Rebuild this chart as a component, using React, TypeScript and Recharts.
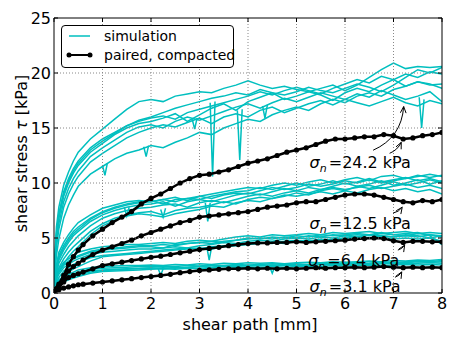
import React from "react";
import {
  LineChart,
  Line,
  XAxis,
  YAxis,
  ReferenceLine,
  ReferenceDot,
  Legend
} from "recharts";

const FONT = "DejaVu Sans";
const CYAN = "#00bfbf";

// shear path grid of the simulated curves [mm]
const simX = [0, 0.05, 0.1, 0.2, 0.3, 0.4, 0.5, 0.75, 1, 1.25, 1.5, 1.75, 2, 2.25, 2.5, 2.75, 3, 3.25, 3.5, 3.75, 4, 4.25, 4.5, 4.75, 5, 5.25, 5.5, 5.75, 6, 6.25, 6.5, 6.75, 7, 7.25, 7.5, 7.75, 8];

// simulations, sigma_n = 24.2 kPa
const sim24a = [1.8, 6.0, 7.8, 9.8, 11.0, 12.0, 12.8, 14.0, 14.9, 15.8, 16.7, 17.4, 17.6, 17.4, 17.9, 18.1, 18.3, 18.2, 18.6, 18.9, 19.3, 18.9, 18.6, 18.8, 18.5, 18.3, 18.6, 18.9, 18.4, 18.9, 19.6, 20.3, 20.9, 20.4, 20.6, 20.5, 20.6];
const sim24b = [1.5, 5.4, 7.2, 9.2, 10.4, 11.3, 12.0, 13.2, 14.0, 14.6, 15.2, 15.6, 15.9, 16.1, 15.8, 16.4, 16.7, 17.0, 17.3, 17.6, 17.9, 18.3, 18.0, 18.4, 18.7, 18.4, 18.1, 18.6, 19.0, 19.4, 19.1, 19.7, 19.4, 19.9, 19.6, 20.1, 19.9];
const sim24c = [1.3, 5.0, 6.8, 8.8, 10.0, 10.9, 11.6, 12.8, 13.6, 14.4, 15.0, 15.4, 15.6, 15.9, 16.3, 15.6, 16.2, 16.8, 17.2, 16.6, 17.4, 17.8, 18.2, 17.6, 17.9, 18.3, 18.0, 17.5, 18.2, 18.6, 18.3, 18.9, 19.4, 18.8, 19.2, 19.0, 18.6];
const sim24d = [1.2, 4.6, 6.3, 8.3, 9.5, 10.4, 11.1, 12.4, 13.2, 13.9, 14.6, 15.1, 15.3, 15.0, 15.6, 16.0, 15.7, 16.1, 16.5, 16.9, 17.2, 16.8, 17.3, 17.7, 17.4, 17.8, 18.2, 17.9, 17.6, 18.1, 17.8, 18.4, 18.0, 17.6, 17.9, 18.3, 17.4];
const sim24e = [1.0, 4.2, 5.8, 7.8, 9.0, 9.9, 10.6, 11.9, 12.7, 13.4, 14.1, 14.6, 15.0, 15.3, 15.1, 15.5, 15.9, 15.4, 16.0, 16.3, 16.0, 16.6, 16.9, 16.4, 16.8, 17.2, 17.5, 17.1, 17.6, 17.3, 17.0, 17.4, 17.8, 17.3, 17.0, 17.5, 17.2];
const sim24f = [0.8, 3.4, 4.9, 6.8, 8.0, 8.9, 9.7, 10.8, 11.5, 12.2, 12.7, 13.0, 13.4, 13.2, 13.7, 14.1, 14.6, 14.4, 15.0, 15.4, 15.8, 15.6, 16.2, 16.6, 16.9, 16.6, 17.2, 17.6, 17.3, 17.9, 18.2, 17.9, 18.5, 18.8, 19.2, 18.9, 19.0];
const sim24g = [1.4, 5.2, 7.0, 9.0, 10.2, 11.1, 11.8, 13.0, 13.8, 14.5, 15.2, 15.7, 16.0, 16.4, 16.8, 17.1, 17.4, 17.7, 17.9, 18.2, 18.0, 18.5, 18.2, 18.0, 18.3, 18.7, 18.4, 18.2, 18.6, 19.0, 18.7, 18.3, 18.9, 19.6, 20.3, 20.0, 20.5];

// simulations, sigma_n = 12.5 kPa
const sim12a = [1.0, 2.5, 3.7, 4.6, 5.3, 5.9, 6.4, 7.1, 7.7, 8.0, 8.3, 8.4, 8.3, 8.5, 8.7, 8.4, 8.8, 9.0, 9.2, 9.4, 9.6, 9.5, 9.8, 10.0, 9.8, 10.1, 10.3, 10.0, 10.3, 10.5, 10.2, 10.6, 10.7, 10.4, 10.6, 10.8, 10.6];
const sim12b = [0.9, 2.3, 3.4, 4.3, 5.0, 5.6, 6.0, 6.8, 7.4, 7.8, 8.1, 8.3, 8.4, 8.1, 8.5, 8.6, 8.5, 8.8, 9.0, 9.2, 9.3, 9.6, 9.4, 9.7, 10.0, 9.7, 9.9, 10.2, 9.9, 10.1, 10.4, 10.1, 10.3, 10.5, 10.2, 10.4, 10.1];
const sim12c = [0.8, 2.0, 3.0, 3.9, 4.6, 5.2, 5.6, 6.5, 7.1, 7.5, 7.8, 8.0, 8.1, 8.3, 7.9, 8.3, 8.5, 8.3, 8.6, 8.9, 9.1, 8.9, 9.2, 9.5, 9.3, 9.6, 9.4, 9.7, 10.0, 9.7, 9.9, 10.2, 9.8, 10.0, 10.3, 9.9, 10.2];
const sim12d = [0.7, 1.8, 2.7, 3.5, 4.2, 4.7, 5.2, 6.1, 6.8, 7.2, 7.5, 7.7, 7.8, 8.0, 8.1, 7.8, 8.2, 8.4, 8.2, 8.5, 8.8, 9.0, 8.8, 9.1, 9.3, 9.1, 9.4, 9.6, 9.4, 9.6, 9.8, 9.5, 9.7, 9.9, 9.6, 9.8, 9.5];
const sim12e = [0.6, 1.5, 2.3, 3.1, 3.7, 4.2, 4.6, 5.6, 6.3, 6.8, 7.1, 7.3, 7.4, 7.1, 7.5, 7.7, 7.8, 8.0, 8.3, 8.1, 8.5, 8.7, 8.6, 8.9, 8.8, 9.0, 9.2, 9.0, 9.3, 9.1, 9.4, 9.6, 9.3, 9.5, 9.2, 9.4, 9.0];
const sim12f = [0.5, 1.3, 1.9, 2.7, 3.3, 3.8, 4.2, 5.3, 6.1, 6.6, 7.0, 7.2, 7.1, 6.9, 7.2, 7.4, 7.6, 7.9, 7.8, 8.2, 8.4, 8.3, 8.6, 8.8, 9.1, 8.9, 9.3, 9.5, 9.3, 9.7, 9.5, 9.8, 10.1, 9.8, 10.0, 10.3, 10.0];
const sim12g = [0.9, 2.2, 3.2, 4.1, 4.8, 5.4, 5.8, 6.7, 7.3, 7.7, 8.0, 8.2, 8.3, 8.5, 8.3, 8.6, 8.8, 8.6, 8.9, 9.1, 9.0, 9.3, 9.6, 9.4, 9.6, 9.9, 9.7, 9.9, 10.2, 10.0, 10.3, 10.0, 10.2, 10.4, 10.7, 10.5, 10.7];

// simulations, sigma_n = 6.4 kPa
const sim6a = [0.6, 1.6, 2.2, 2.8, 3.1, 3.4, 3.7, 4.0, 4.2, 4.3, 4.4, 4.4, 4.5, 4.6, 4.5, 4.7, 4.8, 4.7, 4.9, 5.1, 5.2, 5.1, 5.3, 5.2, 5.3, 5.4, 5.3, 5.5, 5.4, 5.5, 5.6, 5.4, 5.5, 5.6, 5.4, 5.5, 5.4];
const sim6b = [0.5, 1.4, 2.0, 2.6, 2.9, 3.2, 3.4, 3.8, 4.0, 4.1, 4.2, 4.3, 4.3, 4.4, 4.3, 4.5, 4.6, 4.7, 4.6, 4.8, 4.9, 5.0, 4.9, 5.1, 5.0, 5.2, 5.1, 5.3, 5.2, 5.3, 5.2, 5.4, 5.3, 5.2, 5.4, 5.3, 5.1];
const sim6c = [0.45, 1.2, 1.7, 2.3, 2.6, 2.9, 3.1, 3.5, 3.7, 3.8, 3.9, 4.0, 4.0, 4.1, 4.2, 4.1, 4.3, 4.4, 4.6, 4.5, 4.7, 4.8, 4.7, 4.9, 5.0, 4.9, 5.1, 5.0, 5.2, 5.1, 5.3, 5.2, 5.1, 5.3, 5.2, 5.0, 5.2];
const sim6d = [0.4, 1.0, 1.4, 2.0, 2.3, 2.6, 2.8, 3.2, 3.4, 3.5, 3.6, 3.7, 3.8, 3.9, 4.0, 4.1, 4.0, 4.2, 4.3, 4.4, 4.5, 4.6, 4.5, 4.7, 4.8, 4.7, 4.9, 4.8, 5.0, 4.9, 5.0, 5.1, 4.9, 5.0, 4.9, 5.0, 4.7];
const sim6e = [0.3, 0.8, 1.1, 1.5, 1.9, 2.2, 2.4, 2.9, 3.3, 3.4, 3.5, 3.6, 3.7, 3.8, 3.9, 4.0, 4.1, 4.0, 4.2, 4.3, 4.4, 4.5, 4.6, 4.5, 4.7, 4.8, 4.7, 4.9, 5.0, 5.1, 5.0, 5.2, 5.1, 5.2, 5.1, 5.3, 5.2];
const sim6f = [0.5, 1.3, 1.9, 2.5, 2.8, 3.1, 3.3, 3.7, 3.9, 4.0, 4.1, 4.2, 4.2, 4.1, 4.4, 4.5, 4.6, 4.5, 4.7, 4.8, 5.0, 4.9, 5.1, 5.0, 5.2, 5.1, 5.3, 5.2, 5.3, 5.4, 5.3, 5.5, 5.3, 5.4, 5.5, 5.2, 4.4];

// simulations, sigma_n = 3.1 kPa
const sim3a = [0.4, 0.9, 1.2, 1.5, 1.7, 1.9, 2.1, 2.3, 2.4, 2.45, 2.5, 2.5, 2.55, 2.5, 2.6, 2.55, 2.65, 2.6, 2.7, 2.65, 2.75, 2.7, 2.75, 2.65, 2.75, 2.8, 2.75, 2.85, 2.8, 2.85, 2.9, 2.85, 2.95, 2.9, 3.0, 2.95, 3.05];
const sim3b = [0.35, 0.8, 1.05, 1.35, 1.55, 1.75, 1.9, 2.15, 2.25, 2.3, 2.35, 2.4, 2.4, 2.45, 2.4, 2.5, 2.45, 2.55, 2.5, 2.6, 2.55, 2.6, 2.65, 2.6, 2.65, 2.6, 2.7, 2.65, 2.7, 2.75, 2.7, 2.75, 2.8, 2.75, 2.85, 2.8, 2.85];
const sim3c = [0.3, 0.7, 0.95, 1.2, 1.4, 1.6, 1.75, 2.0, 2.1, 2.15, 2.2, 2.25, 2.3, 2.2, 2.35, 2.3, 2.4, 2.35, 2.45, 2.4, 2.5, 2.45, 2.5, 2.55, 2.5, 2.55, 2.6, 2.55, 2.6, 2.65, 2.6, 2.65, 2.7, 2.65, 2.7, 2.75, 2.7];
const sim3d = [0.2, 0.55, 0.75, 1.0, 1.2, 1.35, 1.5, 1.8, 1.95, 2.0, 2.05, 2.1, 2.15, 2.2, 2.15, 2.25, 2.2, 2.3, 2.25, 2.3, 2.35, 2.3, 2.4, 2.35, 2.4, 2.45, 2.4, 2.5, 2.45, 2.5, 2.55, 2.5, 2.55, 2.6, 2.55, 2.6, 2.55];
const sim3e = [0.3, 0.65, 0.9, 1.15, 1.35, 1.5, 1.65, 1.9, 2.05, 2.1, 2.15, 2.2, 2.25, 2.3, 2.25, 2.35, 2.4, 2.35, 2.45, 2.5, 2.45, 2.5, 2.55, 2.5, 2.6, 2.55, 2.65, 2.6, 2.7, 2.65, 2.7, 2.8, 2.75, 2.85, 2.9, 2.85, 2.95];

// sharp drops in the simulated curves, [x, tau]
const drops = [
  [[1.0, 11.6], [1.05, 10.7], [1.1, 11.8]],
  [[1.85, 13.3], [1.9, 12.4], [1.95, 13.4]],
  [[2.85, 15.8], [2.9, 14.9], [2.95, 15.9]],
  [[3.22, 17.3], [3.27, 10.6], [3.32, 17.4]],
  [[3.78, 16.6], [3.83, 12.1], [3.88, 16.7]],
  [[4.3, 17.0], [4.35, 15.9], [4.4, 17.1]],
  [[7.53, 17.8], [7.58, 15.0], [7.63, 17.6]],
  [[1.45, 7.8], [1.5, 7.0], [1.55, 7.8]],
  [[2.2, 7.6], [2.25, 6.9], [2.3, 7.7]],
  [[3.12, 8.2], [3.17, 6.5], [3.22, 8.2]],
  [[3.15, 4.2], [3.2, 3.0], [3.25, 4.2]],
  [[2.15, 2.2], [2.2, 1.6], [2.25, 2.2]],
  [[4.45, 2.35], [4.5, 1.8], [4.55, 2.35]]
];

// experiments, paired & compacted
const expX = [0, 0.1, 0.2, 0.3, 0.4, 0.5, 0.6, 0.8, 1, 1.2, 1.4, 1.6, 1.8, 2, 2.2, 2.4, 2.6, 2.8, 3, 3.2, 3.4, 3.6, 3.8, 4, 4.2, 4.4, 4.6, 4.8, 5, 5.2, 5.4, 5.6, 5.8, 6, 6.2, 6.4, 6.6, 6.8, 7, 7.2, 7.4, 7.6, 7.8, 8];
const exp24 = [0.3, 0.8, 1.6, 2.6, 3.3, 3.9, 4.4, 5.2, 5.8, 6.4, 6.9, 7.4, 8.1, 8.6, 9.0, 9.5, 10.0, 10.4, 10.7, 10.8, 11.0, 11.2, 11.5, 11.8, 12.0, 12.2, 12.5, 12.8, 13.0, 13.2, 13.5, 13.8, 14.0, 14.0, 14.1, 14.2, 14.2, 14.4, 14.3, 14.0, 14.1, 14.3, 14.4, 14.6];
const exp12 = [0.2, 0.6, 1.3, 2.0, 2.4, 2.7, 3.0, 3.5, 3.9, 4.2, 4.5, 4.8, 5.2, 5.5, 5.8, 6.1, 6.4, 6.6, 6.9, 7.0, 7.1, 7.2, 7.3, 7.4, 7.6, 7.8, 7.9, 8.0, 8.2, 8.3, 8.3, 8.5, 8.7, 8.9, 9.0, 9.0, 8.9, 8.7, 8.5, 8.3, 8.2, 8.4, 8.3, 8.5];
const exp6 = [0.2, 0.5, 1.0, 1.4, 1.6, 1.75, 1.9, 2.2, 2.5, 2.65, 2.8, 2.95, 3.1, 3.25, 3.35, 3.5, 3.65, 3.8, 3.95, 4.05, 4.15, 4.3, 4.4, 4.5, 4.55, 4.55, 4.6, 4.6, 4.65, 4.6, 4.65, 4.7, 4.75, 4.8, 4.9, 4.95, 5.0, 4.95, 4.75, 4.6, 4.7, 4.7, 4.65, 4.65];
const exp3 = [0.1, 0.3, 0.45, 0.55, 0.65, 0.75, 0.8, 0.9, 1.0, 1.1, 1.2, 1.3, 1.4, 1.5, 1.6, 1.7, 1.85, 1.95, 2.05, 2.1, 2.15, 2.2, 2.2, 2.25, 2.2, 2.25, 2.2, 2.25, 2.2, 2.25, 2.3, 2.25, 2.3, 2.3, 2.35, 2.3, 2.35, 2.4, 2.35, 2.3, 2.35, 2.3, 2.35, 2.3];

const xTicks = [0, 1, 2, 3, 4, 5, 6, 7, 8];
const yTicks = [0, 5, 10, 15, 20, 25];

// annotations
const stressLabels = ["24.2", "12.5", "6.4", "3.1"];
const labelAt = [[5.27, 11.37], [5.27, 5.82], [5.24, 2.44], [5.27, 0.12]];
const arrows = [
  { from: [6.58, 12.98], to: [7.21, 16.95], bend: 0.3 },
  { from: [6.92, 12.7], to: [7.16, 13.7], bend: 0.2 },
  { from: [6.99, 7.26], to: [7.18, 7.8], bend: 0.2 },
  { from: [7.09, 3.9], to: [7.23, 4.35], bend: 0.2 },
  { from: [7.03, 1.43], to: [7.17, 1.92], bend: 0.2 }
];

const simLines = [
  sim24a, sim24b, sim24c, sim24d, sim24e, sim24f, sim24g,
  sim12a, sim12b, sim12c, sim12d, sim12e, sim12f, sim12g,
  sim6a, sim6b, sim6c, sim6d, sim6e, sim6f,
  sim3a, sim3b, sim3c, sim3d, sim3e
].map(ys => ys.map((y, i) => ({ x: simX[i], y })));

const dropLines = drops.map(d => d.map(([x, y]) => ({ x, y })));

const expLines = [exp24, exp12, exp6, exp3].map(ys =>
  ys.map((y, i) => ({ x: expX[i], y }))
);

function Arrow(p: any) {
  const { x1, y1, x2, y2, bend } = p;
  const mx = (x1 + x2) / 2;
  const my = (y1 + y2) / 2;
  const cx = mx - bend * (y2 - y1);
  const cy = my + bend * (x2 - x1);
  const ang = Math.atan2(y2 - cy, x2 - cx);
  const L = 7;
  const a = 0.42;
  const h1x = x2 - L * Math.cos(ang - a);
  const h1y = y2 - L * Math.sin(ang - a);
  const h2x = x2 - L * Math.cos(ang + a);
  const h2y = y2 - L * Math.sin(ang + a);
  return (
    <g>
      <path
        d={`M${x1},${y1} Q${cx},${cy} ${x2},${y2}`}
        fill="none"
        stroke="#000"
        strokeWidth={1}
      />
      <path
        d={`M${h1x},${h1y} L${x2},${y2} L${h2x},${h2y}`}
        fill="none"
        stroke="#000"
        strokeWidth={1}
      />
    </g>
  );
}

function StressText(p: any) {
  return (
    <text
      x={p.cx}
      y={p.cy}
      fontFamily={FONT}
      fontSize={16}
      fill="#000"
    >
      <tspan fontStyle="italic">σ</tspan>
      <tspan fontStyle="italic" fontSize={11} dy={4}>n</tspan>
      <tspan dy={-4} dx={2}>={p.value} kPa</tspan>
    </text>
  );
}

// grid line (dotted) or spine, with inward tick marks at both ends
function VTick(p: any) {
  const top = Math.min(p.y1, p.y2);
  const bot = Math.max(p.y1, p.y2);
  const x = p.x1;
  return (
    <g>
      {p.edge ? (
        <line x1={x} x2={x} y1={top} y2={bot} stroke="#000" strokeWidth={1} />
      ) : (
        <line x1={x} x2={x} y1={top} y2={bot} stroke="#888" strokeWidth={1} strokeDasharray="1 2" />
      )}
      <line x1={x} x2={x} y1={bot} y2={bot - 4} stroke="#000" />
      <line x1={x} x2={x} y1={top} y2={top + 4} stroke="#000" />
    </g>
  );
}

function HTick(p: any) {
  const l = Math.min(p.x1, p.x2);
  const r = Math.max(p.x1, p.x2);
  const y = p.y1;
  return (
    <g>
      {p.edge ? (
        <line x1={l} x2={r} y1={y} y2={y} stroke="#000" strokeWidth={1} />
      ) : (
        <line x1={l} x2={r} y1={y} y2={y} stroke="#888" strokeWidth={1} strokeDasharray="1 2" />
      )}
      <line x1={l} x2={l + 4} y1={y} y2={y} stroke="#000" />
      <line x1={r} x2={r - 4} y1={y} y2={y} stroke="#000" />
    </g>
  );
}

function XLabel(p: any) {
  const vb = p.viewBox;
  return (
    <text
      x={vb.x + vb.width / 2 + 2}
      y={vb.y + 31}
      textAnchor="middle"
      dominantBaseline="central"
      fontFamily={FONT}
      fontSize={16}
      fill="#000"
    >
      shear path [mm]
    </text>
  );
}

function YLabel(p: any) {
  const vb = p.viewBox;
  const cx = vb.x + 21;
  const cy = vb.y + vb.height / 2 - 2;
  return (
    <text
      x={cx}
      y={cy}
      transform={`rotate(-90 ${cx} ${cy})`}
      textAnchor="middle"
      dominantBaseline="central"
      fontFamily={FONT}
      fontSize={16}
      fill="#000"
    >
      shear stress <tspan fontStyle="italic">τ</tspan> [kPa]
    </text>
  );
}

function LegendBox() {
  return (
    <div
      style={{
        position: "relative",
        width: 173,
        height: 43,
        boxSizing: "border-box",
        border: "1px solid #000",
        borderRadius: 4,
        background: "#fff",
        fontFamily: FONT,
        fontSize: 14,
        color: "#000",
        whiteSpace: "nowrap"
      }}
    >
      <svg
        width={40}
        height={41}
        style={{ position: "absolute", left: 0, top: 0 }}
      >
        <line x1={7} x2={28} y1={10} y2={10} stroke={CYAN} strokeWidth={1.5} />
        <line x1={7} x2={28} y1={29} y2={29} stroke="#000" strokeWidth={2} />
        <circle cx={7} cy={29} r={2.5} fill="#000" />
        <circle cx={28} cy={29} r={2.5} fill="#000" />
      </svg>
      <div style={{ position: "absolute", left: 42, top: 1, lineHeight: "18px" }}>
        simulation
      </div>
      <div style={{ position: "absolute", left: 42, top: 20, lineHeight: "18px" }}>
        paired, compacted
      </div>
    </div>
  );
}

export default function App() {
  const tickFont = { fontSize: 16, fill: "#000", fontFamily: FONT };
  return (
    <div
      style={{
        position: "absolute",
        left: 0,
        top: 0,
        width: 457,
        height: 344,
        background: "#fff"
      }}
    >
      <LineChart
        width={457}
        height={344}
        margin={{ top: 18, right: 15, bottom: 0, left: 0 }}
      >
        <XAxis
          type="number"
          dataKey="x"
          domain={[0, 8]}
          ticks={xTicks}
          interval={0}
          tickSize={0}
          tickMargin={5}
          axisLine={false}
          tickLine={false}
          height={51}
          tick={tickFont}
          allowDataOverflow
          label={XLabel}
        />
        <YAxis
          type="number"
          domain={[0, 25]}
          ticks={yTicks}
          interval={0}
          tickSize={0}
          tickMargin={3}
          axisLine={false}
          tickLine={false}
          width={54}
          tick={tickFont}
          allowDataOverflow
          label={YLabel}
        />
        <Legend
          layout="horizontal"
          verticalAlign="middle"
          align="center"
          wrapperStyle={{ top: 25, left: 61, width: 173, height: 43 }}
          content={() => <LegendBox />}
        />

        {simLines.map((d, i) => (
          <Line
            key={"s" + i}
            data={d}
            dataKey="y"
            type="linear"
            stroke={CYAN}
            strokeWidth={1.5}
            dot={false}
            activeDot={false}
            isAnimationActive={false}
          />
        ))}
        {dropLines.map((d, i) => (
          <Line
            key={"d" + i}
            data={d}
            dataKey="y"
            type="linear"
            stroke={CYAN}
            strokeWidth={1.5}
            dot={false}
            activeDot={false}
            isAnimationActive={false}
          />
        ))}
        {expLines.map((d, i) => (
          <Line
            key={"e" + i}
            data={d}
            dataKey="y"
            type="linear"
            stroke="#000"
            strokeWidth={2.5}
            dot={{ r: 2.6, fill: "#000", stroke: "none" }}
            activeDot={false}
            isAnimationActive={false}
          />
        ))}

        {xTicks.map(t => (
          <ReferenceLine
            key={"vx" + t}
            x={t}
            shape={(p: any) => <VTick {...p} edge={t === 0 || t === 8} />}
          />
        ))}
        {yTicks.map(t => (
          <ReferenceLine
            key={"hy" + t}
            y={t}
            shape={(p: any) => <HTick {...p} edge={t === 0 || t === 25} />}
          />
        ))}

        {arrows.map((a, i) => (
          <ReferenceLine
            key={"a" + i}
            segment={[
              { x: a.from[0], y: a.from[1] },
              { x: a.to[0], y: a.to[1] }
            ]}
            shape={(p: any) => <Arrow {...p} bend={a.bend} />}
          />
        ))}
        {stressLabels.map((s, i) => (
          <ReferenceDot
            key={"t" + i}
            x={labelAt[i][0]}
            y={labelAt[i][1]}
            r={0}
            shape={(p: any) => <StressText {...p} value={s} />}
          />
        ))}
      </LineChart>
    </div>
  );
}
